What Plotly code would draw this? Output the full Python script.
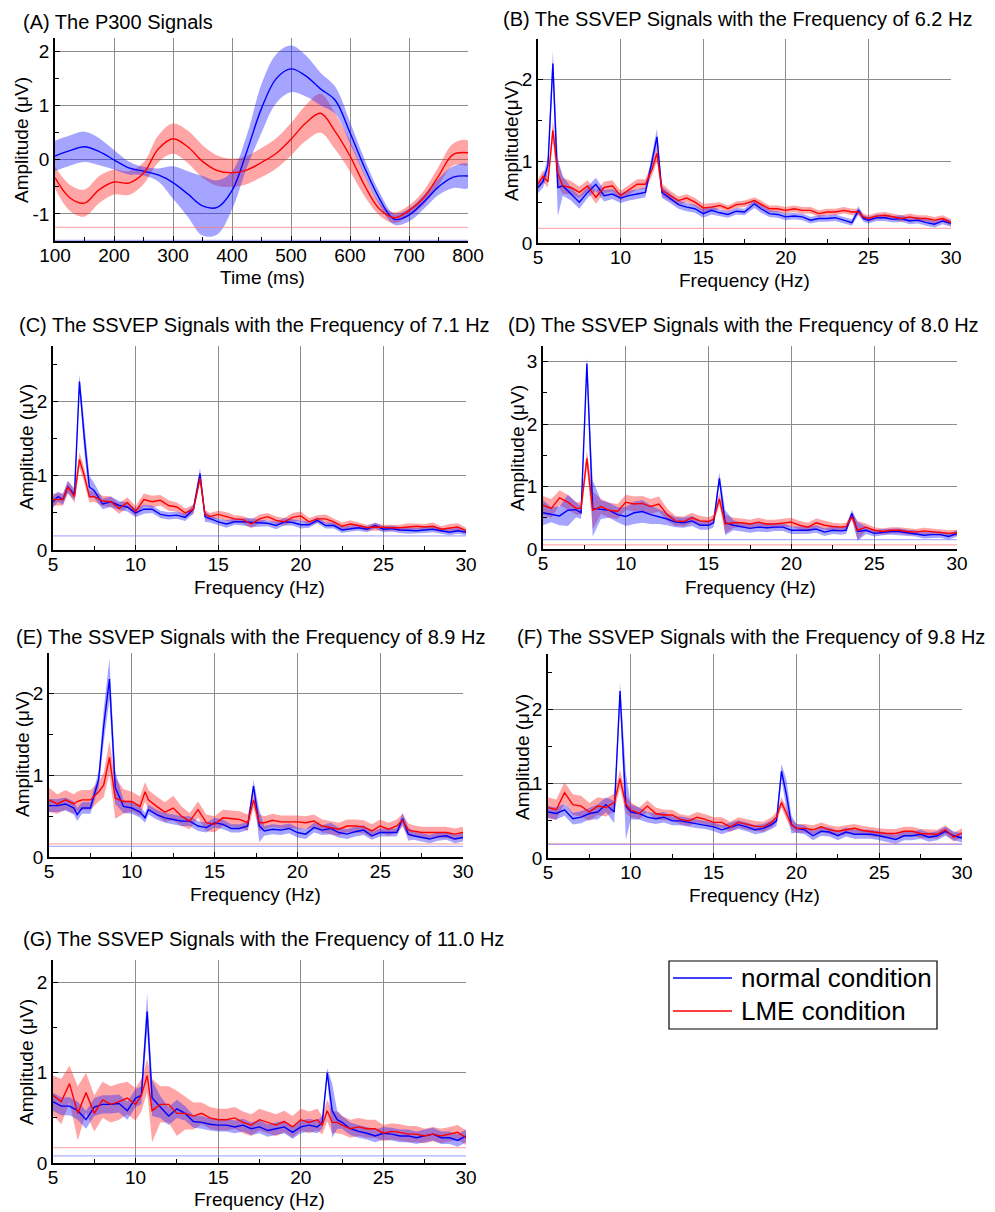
import numpy as np
import plotly.graph_objects as go

PAGE_W, PAGE_H = 995, 1212
FW, FH = PAGE_W, PAGE_H
FONT = "Liberation Sans, Arial, sans-serif"


def px(xp):
    return xp / FW


def py(yp):
    return 1 - yp / FH


# ---------------- (A) P300 ----------------
A_time = [100, 125, 150, 175, 200, 225, 250, 275, 300, 325, 350, 375, 400, 425, 450,
          475, 500, 525, 550, 575, 600, 625, 650, 675, 700, 725, 750, 775, 800]
A_normal = [0.07, 0.17, 0.24, 0.15, 0.00, -0.15, -0.21, -0.28, -0.42, -0.63, -0.85, -0.88, -0.57, 0.15, 0.95,
            1.50, 1.68, 1.55, 1.31, 1.10, 0.50, -0.15, -0.72, -1.10, -1.02, -0.78, -0.50, -0.32, -0.30]
A_normal_sd = [0.28, 0.28, 0.28, 0.25, 0.18, 0.12, 0.08, 0.12, 0.30, 0.42, 0.55, 0.50, 0.35, 0.30, 0.45,
               0.45, 0.43, 0.38, 0.30, 0.25, 0.20, 0.15, 0.12, 0.10, 0.12, 0.13, 0.15, 0.20, 0.22]
A_lme = [-0.33, -0.70, -0.80, -0.55, -0.41, -0.43, -0.25, 0.20, 0.39, 0.24, -0.03, -0.20, -0.24, -0.19, -0.05,
         0.12, 0.38, 0.68, 0.86, 0.52, 0.07, -0.48, -0.91, -1.07, -0.94, -0.70, -0.30, 0.10, 0.13]
A_lme_sd = [0.20, 0.24, 0.25, 0.25, 0.23, 0.22, 0.20, 0.25, 0.28, 0.30, 0.30, 0.28, 0.26, 0.26, 0.27,
            0.28, 0.30, 0.33, 0.36, 0.33, 0.28, 0.20, 0.12, 0.10, 0.10, 0.13, 0.17, 0.20, 0.22]
A_thr_normal, A_thr_lme = -1.49, -1.25

# ---------------- (B) 6.2 Hz ----------------
B_freq = [5.0, 5.3, 5.6, 5.9, 6.2, 6.5, 7.0, 7.5, 8.0, 8.5, 9.0, 9.5, 10.0, 10.5, 11.0, 11.5,
          11.9, 12.2, 12.5, 13.0, 13.5, 14.0, 14.5, 15.0, 15.5, 16.0, 16.5, 17.0, 17.5, 18.1,
          18.5, 19.0, 19.5, 20.0, 20.5, 21.0, 21.5, 22.0, 22.5, 23.0, 23.5, 24.0, 24.4, 24.7,
          25.0, 25.5, 26.0, 26.5, 27.0, 27.5, 28.0, 28.5, 29.0, 29.5, 30.0]
B_normal = [0.68, 0.75, 0.95, 2.20, 0.68, 0.70, 0.60, 0.50, 0.62, 0.72, 0.58, 0.60, 0.55, 0.58, 0.60, 0.62,
            1.00, 1.30, 0.62, 0.55, 0.47, 0.44, 0.42, 0.36, 0.40, 0.37, 0.35, 0.39, 0.38, 0.48,
            0.42, 0.36, 0.35, 0.32, 0.33, 0.32, 0.28, 0.30, 0.30, 0.31, 0.28, 0.25, 0.40, 0.30,
            0.28, 0.31, 0.31, 0.29, 0.30, 0.27, 0.28, 0.25, 0.23, 0.27, 0.24]
B_normal_sd = [0.07, 0.07, 0.10, 0.15, 0.35, 0.12, 0.08, 0.08, 0.07, 0.08, 0.07, 0.06, 0.06, 0.06, 0.06, 0.06,
               0.08, 0.10, 0.07, 0.06, 0.05, 0.05, 0.05, 0.05, 0.05, 0.04, 0.04, 0.04, 0.04, 0.05,
               0.05, 0.04, 0.04, 0.04, 0.04, 0.04, 0.04, 0.04, 0.04, 0.04, 0.04, 0.04, 0.05, 0.04,
               0.04, 0.04, 0.04, 0.04, 0.04, 0.04, 0.04, 0.04, 0.04, 0.04, 0.04]
B_lme = [0.72, 0.82, 0.75, 1.38, 0.85, 0.70, 0.68, 0.62, 0.70, 0.56, 0.68, 0.70, 0.58, 0.65, 0.72, 0.72,
         0.90, 1.10, 0.65, 0.58, 0.52, 0.55, 0.50, 0.43, 0.44, 0.46, 0.42, 0.47, 0.48, 0.52,
         0.48, 0.42, 0.42, 0.40, 0.42, 0.40, 0.40, 0.36, 0.38, 0.38, 0.40, 0.38, 0.38, 0.32,
         0.30, 0.33, 0.34, 0.32, 0.30, 0.32, 0.30, 0.30, 0.28, 0.30, 0.25]
B_lme_sd = [0.06, 0.07, 0.07, 0.12, 0.15, 0.10, 0.08, 0.07, 0.07, 0.08, 0.07, 0.07, 0.06, 0.06, 0.06, 0.06,
            0.08, 0.10, 0.08, 0.06, 0.05, 0.05, 0.05, 0.05, 0.05, 0.04, 0.04, 0.04, 0.04, 0.04,
            0.04, 0.04, 0.04, 0.04, 0.04, 0.04, 0.04, 0.04, 0.04, 0.04, 0.04, 0.04, 0.04, 0.04,
            0.04, 0.04, 0.04, 0.04, 0.04, 0.04, 0.04, 0.04, 0.04, 0.04, 0.04]
B_thr_normal, B_thr_lme = None, 0.18

# ---------------- (C) 7.1 Hz ----------------
C_freq = [5.0, 5.3, 5.6, 5.9, 6.3, 6.6, 6.9, 7.2,
          7.5, 8.0, 8.5, 9.0, 9.5, 10.0, 10.5, 11.0, 11.5, 12.0, 12.5, 13.0, 13.5,
          13.9, 14.2,
          14.5, 15.0, 15.5, 16.0, 16.5, 17.0, 17.5, 18.0, 18.5, 19.0, 19.5, 20.0, 20.5, 21.0, 21.5, 22.0,
          22.5, 23.0, 23.5, 24.0, 24.5, 25.0, 25.5, 26.0, 26.5, 27.0, 27.5, 28.0, 28.5, 29.0, 29.5, 30.0]
C_normal = [0.65, 0.72, 0.68, 0.85, 0.75, 2.27, 1.50, 0.85,
            0.80, 0.62, 0.65, 0.60, 0.58, 0.50, 0.55, 0.55, 0.48, 0.46, 0.47, 0.44, 0.55,
            1.03, 0.45,
            0.42, 0.38, 0.35, 0.38, 0.38, 0.37, 0.36, 0.36, 0.33, 0.38, 0.37, 0.34, 0.34, 0.40, 0.33, 0.33,
            0.27, 0.29, 0.30, 0.28, 0.33, 0.28, 0.29, 0.27, 0.26, 0.26, 0.27, 0.28, 0.26, 0.24, 0.26, 0.24]
C_normal_sd = [0.08, 0.07, 0.07, 0.08, 0.08, 0.10, 0.20, 0.15,
               0.10, 0.07, 0.07, 0.06, 0.06, 0.06, 0.06, 0.05, 0.05, 0.05, 0.05, 0.05, 0.06,
               0.08, 0.07,
               0.05, 0.04, 0.05, 0.04, 0.05, 0.06, 0.05, 0.04, 0.05, 0.05, 0.04, 0.05, 0.04, 0.04, 0.04, 0.04,
               0.04, 0.04, 0.04, 0.04, 0.04, 0.04, 0.04, 0.04, 0.04, 0.04, 0.04, 0.04, 0.04, 0.04, 0.04, 0.04]
C_lme = [0.68, 0.68, 0.68, 0.85, 0.72, 1.22, 1.00, 0.72,
         0.72, 0.66, 0.65, 0.56, 0.64, 0.52, 0.68, 0.65, 0.67, 0.60, 0.58, 0.50, 0.55,
         0.97, 0.48,
         0.45, 0.48, 0.45, 0.42, 0.41, 0.35, 0.42, 0.45, 0.40, 0.38, 0.44, 0.46, 0.38, 0.42, 0.42, 0.38,
         0.32, 0.35, 0.33, 0.30, 0.31, 0.30, 0.30, 0.30, 0.31, 0.32, 0.31, 0.32, 0.28, 0.30, 0.31, 0.26]
C_lme_sd = [0.08, 0.08, 0.08, 0.08, 0.08, 0.10, 0.10, 0.08,
            0.07, 0.07, 0.07, 0.07, 0.07, 0.07, 0.08, 0.08, 0.07, 0.07, 0.06, 0.06, 0.06,
            0.06, 0.06,
            0.05, 0.05, 0.06, 0.05, 0.05, 0.06, 0.06, 0.05, 0.05, 0.05, 0.06, 0.06, 0.05, 0.05, 0.06, 0.05,
            0.05, 0.05, 0.04, 0.04, 0.05, 0.04, 0.04, 0.04, 0.05, 0.04, 0.04, 0.05, 0.04, 0.05, 0.05, 0.04]
C_thr_normal, C_thr_lme = 0.19, None

# ---------------- (D) 8.0 Hz ----------------
D_freq = [5.0, 5.5, 6.0, 6.5, 7.0, 7.3, 7.65,
          8.0, 8.5, 9.0, 9.5, 10.0, 10.5, 11.0, 11.5, 12.0, 12.5, 13.0, 13.5, 14.0, 14.5, 15.0,
          15.3, 15.65,
          16.0, 16.5, 17.0, 17.5, 18.0, 18.5, 19.0, 19.5, 20.0, 20.5, 21.0, 21.5, 22.0, 22.5, 23.0,
          23.3, 23.65,
          24.0, 24.5, 25.0, 25.5, 26.0, 26.5, 27.0, 27.5, 28.0, 28.5, 29.0, 29.5, 30.0]
D_normal = [0.58, 0.55, 0.53, 0.62, 0.63, 0.58, 2.97,
            0.65, 0.63, 0.62, 0.55, 0.52, 0.58, 0.60, 0.55, 0.52, 0.48, 0.43, 0.42, 0.45, 0.38, 0.38,
            0.42, 1.13,
            0.42, 0.38, 0.35, 0.33, 0.35, 0.34, 0.35, 0.35, 0.30, 0.30, 0.30, 0.32, 0.27, 0.30, 0.29,
            0.30, 0.57,
            0.28, 0.30, 0.25, 0.27, 0.28, 0.28, 0.26, 0.25, 0.22, 0.23, 0.23, 0.20, 0.25]
D_normal_sd = [0.20, 0.12, 0.15, 0.25, 0.12, 0.10, 0.10,
               0.45, 0.15, 0.12, 0.12, 0.15, 0.18, 0.18, 0.15, 0.12, 0.10, 0.08, 0.08, 0.08, 0.07, 0.07,
               0.07, 0.10,
               0.20, 0.08, 0.07, 0.07, 0.07, 0.07, 0.06, 0.06, 0.06, 0.06, 0.06, 0.06, 0.06, 0.06, 0.06,
               0.06, 0.06,
               0.15, 0.06, 0.05, 0.05, 0.05, 0.05, 0.05, 0.05, 0.05, 0.05, 0.05, 0.05, 0.05]
D_lme = [0.70, 0.65, 0.82, 0.75, 0.65, 0.65, 1.45,
         0.62, 0.68, 0.62, 0.60, 0.75, 0.72, 0.73, 0.68, 0.72, 0.55, 0.45, 0.44, 0.50, 0.45, 0.44,
         0.48, 0.80,
         0.40, 0.42, 0.42, 0.40, 0.43, 0.40, 0.40, 0.42, 0.43, 0.38, 0.35, 0.42, 0.38, 0.36, 0.35,
         0.36, 0.52,
         0.30, 0.35, 0.30, 0.28, 0.30, 0.30, 0.28, 0.27, 0.29, 0.28, 0.27, 0.25, 0.26]
D_lme_sd = [0.15, 0.15, 0.12, 0.12, 0.10, 0.10, 0.12,
            0.30, 0.12, 0.12, 0.12, 0.12, 0.12, 0.12, 0.12, 0.12, 0.10, 0.08, 0.08, 0.08, 0.08, 0.07,
            0.07, 0.10,
            0.15, 0.08, 0.07, 0.07, 0.07, 0.07, 0.07, 0.07, 0.07, 0.07, 0.07, 0.07, 0.07, 0.06, 0.06,
            0.06, 0.06,
            0.15, 0.06, 0.05, 0.05, 0.05, 0.05, 0.05, 0.05, 0.05, 0.05, 0.05, 0.05, 0.05]
D_thr_normal, D_thr_lme = 0.15, 0.065

# ---------------- (E) 8.9 Hz ----------------
E_freq = [5.0, 5.5, 6.0, 6.5, 6.7, 7.0, 7.5, 8.0, 8.3, 8.65, 9.0, 9.5, 10.0, 10.5, 10.8,
          11.0, 11.5, 12.0, 12.5, 13.0, 13.5, 14.0, 14.5, 15.0, 15.5, 16.0, 16.5, 17.0,
          17.35, 17.7,
          18.0, 18.5, 19.0, 19.5, 20.0, 20.5, 21.0, 21.5, 22.0, 22.5, 23.0, 23.5, 24.0, 24.5, 25.0, 25.5, 26.0,
          26.35, 26.7,
          27.0, 27.5, 28.0, 28.5, 29.0, 29.5, 30.0]
E_normal = [0.63, 0.63, 0.65, 0.60, 0.52, 0.60, 0.60, 0.95, 1.60, 2.18, 0.85, 0.62, 0.60, 0.55, 0.48,
            0.58, 0.52, 0.48, 0.46, 0.44, 0.44, 0.38, 0.36, 0.42, 0.40, 0.35, 0.35, 0.38,
            0.87, 0.38,
            0.32, 0.34, 0.33, 0.35, 0.30, 0.28, 0.36, 0.33, 0.35, 0.30, 0.28, 0.31, 0.33, 0.26, 0.30, 0.30, 0.30,
            0.47, 0.28,
            0.26, 0.24, 0.22, 0.25, 0.26, 0.22, 0.24]
E_normal_sd = [0.08, 0.08, 0.08, 0.08, 0.08, 0.07, 0.07, 0.10, 0.20, 0.25, 0.20, 0.08, 0.07, 0.07, 0.06,
               0.06, 0.06, 0.06, 0.06, 0.06, 0.06, 0.06, 0.06, 0.06, 0.06, 0.05, 0.05, 0.05,
               0.07, 0.20,
               0.06, 0.06, 0.06, 0.06, 0.06, 0.06, 0.06, 0.06, 0.07, 0.06, 0.06, 0.06, 0.06, 0.05, 0.05, 0.05, 0.05,
               0.07, 0.08,
               0.05, 0.05, 0.05, 0.05, 0.05, 0.05, 0.05]
E_lme = [0.70, 0.65, 0.70, 0.65, 0.68, 0.70, 0.70, 0.80, 0.88, 1.22, 0.72, 0.68, 0.68, 0.62, 0.80,
         0.70, 0.62, 0.55, 0.60, 0.50, 0.44, 0.58, 0.42, 0.40, 0.48, 0.47, 0.46, 0.42,
         0.70, 0.42,
         0.42, 0.45, 0.43, 0.43, 0.43, 0.42, 0.44, 0.38, 0.36, 0.34, 0.38, 0.38, 0.37, 0.32, 0.38, 0.34, 0.38,
         0.45, 0.33,
         0.32, 0.30, 0.30, 0.30, 0.30, 0.28, 0.30]
E_lme_sd = [0.15, 0.12, 0.12, 0.12, 0.12, 0.12, 0.12, 0.12, 0.15, 0.20, 0.25, 0.15, 0.12, 0.12, 0.12,
            0.12, 0.12, 0.12, 0.15, 0.12, 0.10, 0.10, 0.10, 0.10, 0.10, 0.10, 0.10, 0.10,
            0.10, 0.10,
            0.08, 0.08, 0.08, 0.08, 0.08, 0.08, 0.08, 0.08, 0.08, 0.08, 0.08, 0.08, 0.08, 0.08, 0.08, 0.08, 0.08,
            0.08, 0.08,
            0.07, 0.07, 0.07, 0.07, 0.07, 0.07, 0.07]
E_thr_normal, E_thr_lme = 0.13, 0.16

# ---------------- (F) 9.8 Hz ----------------
F_freq = [5.0, 5.5, 6.0, 6.5, 7.0, 7.5, 8.0, 8.5, 9.0,
          9.35, 9.7,
          10.0, 10.5, 11.0, 11.5, 12.0, 12.5, 13.0, 13.5, 14.0, 14.5, 15.0, 15.5, 16.0, 16.5, 17.0, 17.5, 18.0, 18.5,
          18.8, 19.1, 19.4, 19.7,
          20.0, 20.5, 21.0, 21.5, 22.0, 22.5, 23.0, 23.5, 24.0, 24.5, 25.0, 25.5, 26.0, 26.5, 27.0, 27.5, 28.0,
          28.5, 29.0, 29.5, 30.0]
F_normal = [0.62, 0.60, 0.65, 0.53, 0.55, 0.60, 0.62, 0.72, 0.62,
            2.25, 0.70,
            0.62, 0.60, 0.55, 0.53, 0.55, 0.50, 0.50, 0.48, 0.46, 0.45, 0.42, 0.38, 0.42, 0.45, 0.42, 0.38, 0.40, 0.45,
            0.50, 1.17, 0.85, 0.45,
            0.40, 0.38, 0.30, 0.36, 0.35, 0.30, 0.35, 0.32, 0.32, 0.32, 0.30, 0.28, 0.25, 0.30, 0.30, 0.32, 0.28,
            0.30, 0.36, 0.30, 0.27]
F_normal_sd = [0.08, 0.08, 0.08, 0.08, 0.08, 0.08, 0.10, 0.10, 0.15,
               0.12, 0.45,
               0.10, 0.08, 0.07, 0.07, 0.07, 0.06, 0.06, 0.06, 0.06, 0.06, 0.06, 0.06, 0.06, 0.06, 0.06, 0.06, 0.06, 0.06,
               0.07, 0.10, 0.20, 0.12,
               0.06, 0.06, 0.06, 0.06, 0.06, 0.06, 0.06, 0.06, 0.06, 0.06, 0.06, 0.06, 0.06, 0.06, 0.06, 0.06, 0.06,
               0.06, 0.06, 0.06, 0.06]
F_lme = [0.68, 0.65, 0.88, 0.72, 0.70, 0.62, 0.70, 0.68, 0.75,
         1.07, 0.72,
         0.65, 0.60, 0.70, 0.60, 0.58, 0.58, 0.52, 0.50, 0.55, 0.52, 0.48, 0.48, 0.42, 0.48, 0.45, 0.43, 0.42, 0.48,
         0.55, 0.75, 0.60, 0.45,
         0.40, 0.40, 0.38, 0.42, 0.38, 0.36, 0.38, 0.40, 0.37, 0.35, 0.34, 0.33, 0.33, 0.36, 0.36, 0.33, 0.33,
         0.32, 0.38, 0.28, 0.34]
F_lme_sd = [0.14, 0.14, 0.14, 0.14, 0.14, 0.12, 0.12, 0.12, 0.12,
            0.12, 0.12,
            0.10, 0.08, 0.08, 0.08, 0.07, 0.07, 0.07, 0.07, 0.07, 0.07, 0.07, 0.07, 0.07, 0.07, 0.07, 0.07, 0.07, 0.07,
            0.07, 0.07, 0.08, 0.07,
            0.06, 0.06, 0.06, 0.06, 0.06, 0.06, 0.06, 0.06, 0.06, 0.06, 0.06, 0.06, 0.06, 0.06, 0.06, 0.06, 0.06,
            0.06, 0.06, 0.06, 0.06]
F_thr_normal, F_thr_lme = 0.185, 0.19

# ---------------- (G) 11.0 Hz ----------------
G_freq = [5.0, 5.5, 6.0, 6.5, 7.0, 7.5, 8.0, 8.5, 9.0, 9.5, 10.0,
          10.35, 10.7,
          11.0, 11.5, 12.0, 12.5, 13.0, 13.5, 14.0, 14.5, 15.0, 15.5, 16.0, 16.5, 17.0, 17.5, 18.0, 18.5, 19.0,
          19.5, 20.0, 20.5, 21.0,
          21.3, 21.6, 21.9, 22.2,
          22.5, 23.0, 23.5, 24.0, 24.5, 25.0, 25.5, 26.0, 26.5, 27.0, 27.5, 28.0, 28.5, 29.0, 29.5, 30.0]
G_normal = [0.68, 0.63, 0.63, 0.58, 0.48, 0.62, 0.65, 0.65, 0.66, 0.58, 0.72,
            0.75, 1.68,
            0.72, 0.62, 0.52, 0.60, 0.55, 0.46, 0.45, 0.43, 0.42, 0.42, 0.40, 0.42, 0.38, 0.40, 0.36, 0.38, 0.40,
            0.34, 0.40, 0.42, 0.40,
            0.45, 1.00, 0.58, 0.48,
            0.45, 0.38, 0.35, 0.33, 0.30, 0.33, 0.32, 0.30, 0.30, 0.28, 0.30, 0.32, 0.28, 0.28, 0.25, 0.30]
G_normal_sd = [0.10, 0.10, 0.10, 0.10, 0.10, 0.10, 0.10, 0.10, 0.10, 0.10, 0.10,
               0.10, 0.20,
               0.20, 0.12, 0.10, 0.10, 0.08, 0.07, 0.07, 0.07, 0.07, 0.07, 0.07, 0.07, 0.07, 0.07, 0.07, 0.07, 0.07,
               0.07, 0.07, 0.07, 0.07,
               0.07, 0.05, 0.30, 0.10,
               0.07, 0.07, 0.07, 0.07, 0.07, 0.07, 0.07, 0.07, 0.07, 0.07, 0.07, 0.07, 0.07, 0.07, 0.07, 0.07]
G_lme = [0.75, 0.68, 0.88, 0.55, 0.78, 0.55, 0.70, 0.65, 0.68, 0.72, 0.65,
         0.75, 0.97,
         0.58, 0.65, 0.65, 0.55, 0.55, 0.52, 0.55, 0.50, 0.48, 0.48, 0.50, 0.45, 0.42, 0.48, 0.45, 0.42, 0.46,
         0.40, 0.48, 0.45, 0.48,
         0.42, 0.58, 0.45, 0.45,
         0.42, 0.38, 0.40, 0.38, 0.38, 0.33, 0.35, 0.34, 0.32, 0.32, 0.30, 0.32, 0.30, 0.32, 0.34, 0.28]
G_lme_sd = [0.22, 0.25, 0.20, 0.30, 0.22, 0.20, 0.20, 0.20, 0.20, 0.18, 0.18,
            0.18, 0.18,
            0.35, 0.20, 0.20, 0.25, 0.18, 0.15, 0.12, 0.12, 0.12, 0.12, 0.12, 0.12, 0.12, 0.12, 0.12, 0.12, 0.12,
            0.12, 0.12, 0.12, 0.12,
            0.10, 0.12, 0.12, 0.12,
            0.10, 0.10, 0.10, 0.10, 0.10, 0.09, 0.09, 0.09, 0.09, 0.09, 0.08, 0.08, 0.08, 0.08, 0.08, 0.08]
G_thr_normal, G_thr_lme = 0.08, 0.17

LEGEND_LABELS = ["normal condition", "LME condition"]

# ---------------- layout description (page pixel positions) ----------------
panels = [
    dict(title="(A) The P300 Signals", x=A_time, n=A_normal, nsd=A_normal_sd, l=A_lme, lsd=A_lme_sd,
         tn=A_thr_normal, tl=A_thr_lme, box=(55, 38, 468, 241), xr=[100, 800], xd=100, yr=[-1.5, 2.25],
         ytitle="Amplitude (μV)", xtitle="Time (ms)", spline=True,
         tpos=(21, 22), ytpos=(22, 140), xtpos=(262, 277)),
    dict(title="(B) The SSVEP Signals with the Frequency of 6.2 Hz", x=B_freq, n=B_normal, nsd=B_normal_sd,
         l=B_lme, lsd=B_lme_sd, tn=B_thr_normal, tl=B_thr_lme, box=(538, 39, 951, 243), xr=[5, 30], xd=5,
         yr=[0, 2.5], ytitle="Amplitude(μV)", xtitle="Frequency (Hz)", spline=False,
         tpos=(501, 19), ytpos=(511, 141), xtpos=(744, 280)),
    dict(title="(C) The SSVEP Signals with the Frequency of 7.1 Hz", x=C_freq, n=C_normal, nsd=C_normal_sd,
         l=C_lme, lsd=C_lme_sd, tn=C_thr_normal, tl=C_thr_lme, box=(53, 346, 466, 550), xr=[5, 30], xd=5,
         yr=[0, 2.75], ytitle="Amplitude (μV)", xtitle="Frequency (Hz)", spline=False,
         tpos=(17, 325), ytpos=(26, 447), xtpos=(259, 587)),
    dict(title="(D) The SSVEP Signals with the Frequency of 8.0 Hz", x=D_freq, n=D_normal, nsd=D_normal_sd,
         l=D_lme, lsd=D_lme_sd, tn=D_thr_normal, tl=D_thr_lme, box=(543, 346, 957, 549), xr=[5, 30], xd=5,
         yr=[0, 3.25], ytitle="Amplitude (μV)", xtitle="Frequency (Hz)", spline=False,
         tpos=(506, 325), ytpos=(517, 448), xtpos=(750, 587)),
    dict(title="(E) The SSVEP Signals with the Frequency of 8.9 Hz", x=E_freq, n=E_normal, nsd=E_normal_sd,
         l=E_lme, lsd=E_lme_sd, tn=E_thr_normal, tl=E_thr_lme, box=(49, 653, 463, 857), xr=[5, 30], xd=5,
         yr=[0, 2.5], ytitle="Amplitude (μV)", xtitle="Frequency (Hz)", spline=False,
         tpos=(14, 637), ytpos=(22, 754), xtpos=(255, 894)),
    dict(title="(F) The SSVEP Signals with the Frequency of 9.8 Hz", x=F_freq, n=F_normal, nsd=F_normal_sd,
         l=F_lme, lsd=F_lme_sd, tn=F_thr_normal, tl=F_thr_lme, box=(548, 654, 962, 858), xr=[5, 30], xd=5,
         yr=[0, 2.75], ytitle="Amplitude (μV)", xtitle="Frequency (Hz)", spline=False,
         tpos=(515, 637), ytpos=(522, 757), xtpos=(754, 895)),
    dict(title="(G) The SSVEP Signals with the Frequency of 11.0 Hz", x=G_freq, n=G_normal, nsd=G_normal_sd,
         l=G_lme, lsd=G_lme_sd, tn=G_thr_normal, tl=G_thr_lme, box=(53, 960, 466, 1163), xr=[5, 30], xd=5,
         yr=[0, 2.25], ytitle="Amplitude (μV)", xtitle="Frequency (Hz)", spline=False,
         tpos=(21, 939), ytpos=(26, 1062), xtpos=(259, 1199)),
]

for p in panels:
    lens = {k: len(p[k]) for k in ("x", "n", "nsd", "l", "lsd")}
    if len(set(lens.values())) != 1:
        raise ValueError(f"{p['title']}: {lens}")

BLUE, RED = "rgb(0,0,255)", "rgb(255,0,0)"
BLUE_FILL, RED_FILL = "rgba(40,40,255,0.42)", "rgba(255,40,40,0.42)"
GRID = "rgb(140,140,140)"

fig = go.Figure()
annotations = []
shapes = []
layout_axes = {}

for i, p in enumerate(panels, start=1):
    xa = "x" if i == 1 else f"x{i}"
    ya = "y" if i == 1 else f"y{i}"
    x = np.array(p["x"], dtype=float)
    n, nsd = np.array(p["n"]), np.array(p["nsd"])
    l, lsd = np.array(p["l"]), np.array(p["lsd"])
    shape = "spline" if p["spline"] else "linear"

    for mean, sd, fc in ((l, lsd, RED_FILL), (n, nsd, BLUE_FILL)):
        fig.add_trace(go.Scatter(
            x=np.concatenate([x, x[::-1]]), y=np.concatenate([mean + sd, (mean - sd)[::-1]]),
            fill="toself", fillcolor=fc, line=dict(width=0, shape=shape), mode="lines",
            hoverinfo="skip", showlegend=False, xaxis=xa, yaxis=ya))

    for thr, col in ((p["tl"], "rgba(255,120,120,0.6)"), (p["tn"], "rgba(110,110,255,0.55)")):
        if thr is not None:
            fig.add_trace(go.Scatter(x=p["xr"], y=[thr, thr], mode="lines",
                                     line=dict(color=col, width=1.2), hoverinfo="skip",
                                     showlegend=False, xaxis=xa, yaxis=ya))

    fig.add_trace(go.Scatter(x=x, y=n, mode="lines", line=dict(color=BLUE, width=1.4, shape=shape),
                             name=LEGEND_LABELS[0], showlegend=False, xaxis=xa, yaxis=ya))
    fig.add_trace(go.Scatter(x=x, y=l, mode="lines", line=dict(color=RED, width=1.4, shape=shape),
                             name=LEGEND_LABELS[1], showlegend=False, xaxis=xa, yaxis=ya))

    x0, y0, x1, y1 = p["box"]
    common = dict(showgrid=True, gridcolor=GRID, gridwidth=1.2, zeroline=False, showline=True,
                  linecolor="black", linewidth=1.5, ticks="inside", ticklen=5, tickcolor="black",
                  tickfont=dict(family=FONT, size=19, color="black"), fixedrange=True,
                  automargin=False)
    xkey = "xaxis" if i == 1 else f"xaxis{i}"
    ykey = "yaxis" if i == 1 else f"yaxis{i}"
    layout_axes[xkey] = dict(common, domain=[px(x0), px(x1)], range=p["xr"], dtick=p["xd"],
                             tick0=p["xr"][0], anchor=ya, ticklabelstandoff=-4,
                             minor=dict(ticks="inside", ticklen=4, dtick=p["xd"] / 2, tickcolor="black",
                                        showgrid=False))
    yd = dict(common, domain=[py(y1), py(y0)], range=p["yr"], dtick=1, anchor=xa,
              minor=dict(ticks="inside", ticklen=4, dtick=0.5, tickcolor="black", showgrid=False))
    if i == 1:
        yd.update(tickvals=[-1, 0, 1, 2], ticktext=["-1", "0", "1", "2"])
    layout_axes[ykey] = yd

    tx, ty = p["tpos"]
    annotations.append(dict(text=p["title"], xref="paper", yref="paper", x=px(tx), y=py(ty),
                            xanchor="left", yanchor="middle", showarrow=False,
                            font=dict(family=FONT, size=20, color="black")))
    yx, yy = p["ytpos"]
    annotations.append(dict(text=p["ytitle"], xref="paper", yref="paper", x=px(yx), y=py(yy),
                            xanchor="center", yanchor="middle", textangle=-90, showarrow=False,
                            font=dict(family=FONT, size=19, color="black")))
    xx, xy = p["xtpos"]
    annotations.append(dict(text=p["xtitle"], xref="paper", yref="paper", x=px(xx), y=py(xy),
                            xanchor="center", yanchor="middle", showarrow=False,
                            font=dict(family=FONT, size=19, color="black")))

# ---------------- legend box (drawn) ----------------
LX0, LY0, LX1, LY1 = 669, 961, 937, 1029
shapes.append(dict(type="rect", xref="paper", yref="paper", x0=px(LX0), x1=px(LX1),
                   y0=py(LY1), y1=py(LY0), line=dict(color="black", width=1.2),
                   fillcolor="white", layer="above"))
for label, col, ly in ((LEGEND_LABELS[0], BLUE, 978), (LEGEND_LABELS[1], RED, 1011)):
    shapes.append(dict(type="line", xref="paper", yref="paper", x0=px(673), x1=px(732),
                       y0=py(ly), y1=py(ly), line=dict(color=col, width=1.5), layer="above"))
    annotations.append(dict(text=label, xref="paper", yref="paper", x=px(739), y=py(ly),
                            xanchor="left", yanchor="middle", showarrow=False,
                            font=dict(family=FONT, size=26, color="black")))

fig.update_layout(
    width=FW, height=FH, margin=dict(l=0, r=0, t=0, b=0, autoexpand=False),
    paper_bgcolor="white", plot_bgcolor="white",
    font=dict(family=FONT, color="black"),
    showlegend=False,
    annotations=annotations,
    shapes=shapes,
    **layout_axes,
)

# the figure fills the whole window: drop the page's default body margin
fig.write_html("out.html", config={"displayModeBar": False},
               post_script="document.body.style.margin='0px';")
